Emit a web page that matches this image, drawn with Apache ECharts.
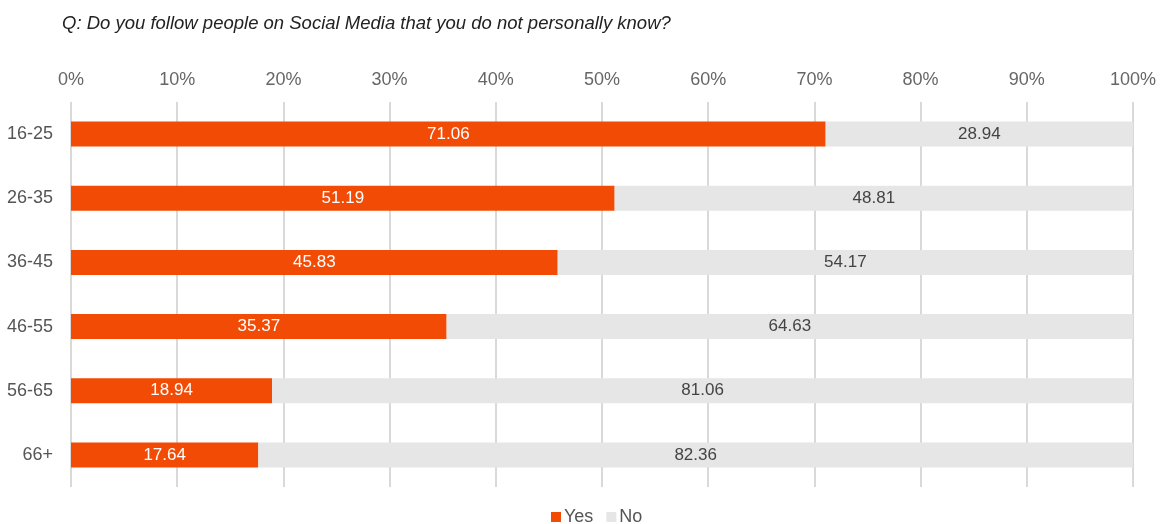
<!DOCTYPE html>
<html>
<head>
<meta charset="utf-8">
<script src="https://cdn.jsdelivr.net/npm/echarts@6/dist/echarts.min.js"></script>
<style>
  html, body { margin: 0; padding: 0; background: #fff; }
  #chart { width: 1162px; height: 524px; }
</style>
</head>
<body>
<div id="chart"></div>
<script>
var ageGroups = ['16-25', '26-35', '36-45', '46-55', '56-65', '66+']
var yesValues = [71.06, 51.19, 45.83, 35.37, 18.94, 17.64]
var noValues = [28.94, 48.81, 54.17, 64.63, 81.06, 82.36]

var chart = echarts.init(document.getElementById('chart'))

var option = {
  animation: false,
  textStyle: { fontFamily: 'Liberation Sans, Arial, sans-serif' },
  title: {
    text: 'Q: Do you follow people on Social Media that you do not personally know?',
    left: 57,
    top: 9,
    textStyle: {
      fontSize: 18.5,
      fontStyle: 'italic',
      fontWeight: 'normal',
      color: '#222'
    }
  },
  legend: {
    bottom: -7,
    left: 546,
    itemWidth: 10,
    itemHeight: 10,
    itemGap: 13,
    icon: 'rect',
    textStyle: { fontSize: 18, color: '#555', padding: [0, 0, 0, -2] },
    data: ['Yes', 'No']
  },
  grid: {
    left: 71,
    right: 29,
    top: 102,
    bottom: 37
  },
  xAxis: {
    type: 'value',
    position: 'top',
    min: 0,
    max: 100,
    interval: 10,
    axisLine: { show: false },
    axisTick: { show: false },
    axisLabel: {
      formatter: '{value}%',
      fontSize: 18,
      color: '#666',
      margin: 13
    },
    splitLine: { lineStyle: { color: '#d9d9d9', width: 2 } }
  },
  yAxis: {
    type: 'category',
    inverse: true,
    data: ageGroups,
    axisLine: { show: false },
    axisTick: { show: false },
    axisLabel: { fontSize: 18, color: '#555', margin: 18 }
  },
  series: [
    {
      name: 'Yes',
      type: 'bar',
      stack: 'total',
      barWidth: 25,
      data: yesValues,
      itemStyle: { color: '#f24b05' },
      label: {
        show: true,
        position: 'inside',
        color: '#fff',
        fontSize: 17,
        formatter: function (p) { return p.value.toFixed(2) }
      }
    },
    {
      name: 'No',
      type: 'bar',
      stack: 'total',
      barWidth: 25,
      data: noValues,
      itemStyle: { color: '#e6e6e6' },
      label: {
        show: true,
        position: 'inside',
        color: '#444',
        fontSize: 17,
        formatter: function (p) { return p.value.toFixed(2) }
      }
    }
  ]
}
chart.setOption(option)
</script>
</body>
</html>
